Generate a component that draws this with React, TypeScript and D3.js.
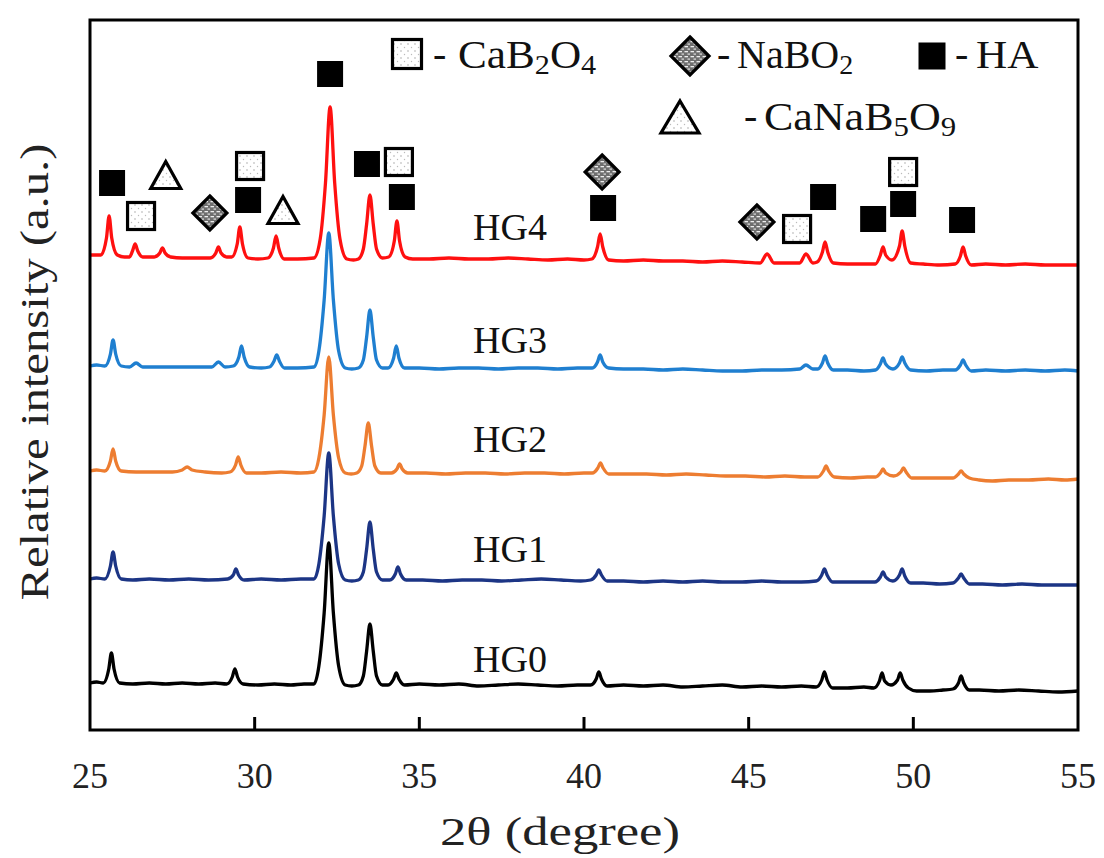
import React from "react";
import * as d3 from "d3";

type Pt = [number, number];

// 2θ ticks
const xTicks = [25, 30, 35, 40, 45, 50, 55];
const seriesNames = ["HG0", "HG1", "HG2", "HG3", "HG4"];
const seriesColors = ["#000000", "#1c3585", "#ed7d31", "#1f7fd0", "#ff1010"];
const seriesOffsets = [47, 151, 259, 364, 474];
const labelLift = [11, 17, 19, 13, 16];

const hg0: Pt[] = [[25,0],[25.2,1],[25.4,0],[25.57,14],[25.65,30],[25.73,14],[25.9,0],[26.3,-1],[26.8,0],[27.3,-1],[27.8,0],[28.3,-1],[28.8,0],[29.15,-1],[29.32,6],[29.4,14],[29.48,6],[29.65,-1],[30.1,-2],[30.6,-1],[31.1,-2],[31.5,-1],[31.8,-1],[31.95,17],[32.11,70],[32.25,140],[32.39,70],[32.55,17],[32.75,-2],[32.95,-3],[33.15,-2],[33.3,7],[33.4,32],[33.5,59],[33.6,32],[33.7,7],[33.88,-2],[34.05,-2],[34.22,4],[34.3,10],[34.38,4],[34.55,-2],[35,-1],[35.6,-2],[36.2,-1],[36.8,-3],[37.4,-2],[38,-1],[38.6,-2],[39.2,-3],[39.8,-2],[40.2,-2],[40.37,4],[40.45,11],[40.53,4],[40.7,-3],[41.2,-2],[41.8,-3],[42.4,-2],[43,-4],[43.6,-3],[44.2,-2],[44.8,-4],[45.4,-3],[46,-4],[46.6,-3],[47.05,-4],[47.22,3],[47.3,11],[47.38,3],[47.55,-5],[48,-5],[48.5,-4],[48.8,-5],[48.97,2],[49.05,10],[49.13,2],[49.32,-2],[49.52,3],[49.6,10],[49.68,3],[49.85,-5],[50.1,-8],[50.5,-8],[50.9,-7],[51.2,-6],[51.37,0],[51.45,7],[51.53,0],[51.7,-7],[52,-7],[52.6,-8],[53.2,-7],[53.8,-8],[54.4,-9],[55,-8]];
const hg1: Pt[] = [[25,0],[25.2,1],[25.45,0],[25.62,13],[25.7,27],[25.78,13],[25.95,0],[26.3,-1],[26.8,0],[27.4,-1],[28,0],[28.6,-1],[29.18,0],[29.35,4],[29.43,10],[29.51,4],[29.68,-1],[30.2,0],[30.8,-1],[31.4,0],[31.8,0],[31.95,15],[32.11,63],[32.25,126],[32.39,63],[32.55,15],[32.75,-1],[32.95,-2],[33.15,-1],[33.3,7],[33.4,30],[33.5,57],[33.6,30],[33.7,7],[33.88,-1],[34.1,-1],[34.27,5],[34.35,12],[34.43,5],[34.6,-1],[35.1,-1],[35.7,-2],[36.3,-1],[36.9,-1],[37.5,-2],[38.1,-1],[38.7,0],[39.3,-1],[39.9,-2],[40.2,-1],[40.37,4],[40.45,9],[40.53,4],[40.7,-2],[41.2,-2],[41.8,-3],[42.4,-2],[43,-3],[43.6,-2],[44.2,-3],[44.8,-3],[45.4,-2],[46,-3],[46.6,-3],[47.05,-2],[47.22,4],[47.3,10],[47.38,4],[47.55,-3],[48,-3],[48.5,-3],[48.83,-3],[49.0,2],[49.08,7],[49.16,2],[49.38,-2],[49.58,4],[49.66,10],[49.74,3],[49.92,-4],[50.3,-4],[50.8,-5],[51.2,-4],[51.37,1],[51.45,5],[51.53,1],[51.7,-5],[52.1,-5],[52.7,-6],[53.3,-5],[53.9,-6],[54.5,-6],[55,-6]];
const hg2: Pt[] = [[25,0],[25.2,1],[25.45,0],[25.62,10],[25.7,22],[25.78,10],[25.95,0],[26.4,-1],[27.0,-1],[27.5,-1],[27.8,1],[27.95,4],[28.1,1],[28.5,-1],[29.0,-2],[29.25,-1],[29.42,6],[29.5,14],[29.58,6],[29.75,-2],[30.2,-2],[30.8,-1],[31.4,-2],[31.8,-1],[31.95,13],[32.11,56],[32.25,114],[32.39,56],[32.55,13],[32.75,-2],[32.93,-3],[33.1,-2],[33.25,5],[33.35,25],[33.45,48],[33.55,25],[33.65,5],[33.83,-2],[34.15,-2],[34.32,2],[34.4,7],[34.48,2],[34.65,-2],[35.2,-2],[35.8,-3],[36.4,-2],[37,-2],[37.6,-3],[38.2,-2],[38.8,-2],[39.4,-3],[40,-2],[40.25,-2],[40.42,3],[40.5,8],[40.58,3],[40.75,-3],[41.3,-3],[41.9,-3],[42.5,-4],[43.1,-3],[43.7,-4],[44.3,-5],[44.9,-5],[45.5,-6],[46.1,-5],[46.7,-6],[47.1,-6],[47.27,0],[47.35,5],[47.43,0],[47.6,-6],[48.1,-7],[48.6,-6],[48.85,-6],[49.0,-2],[49.08,2],[49.16,-2],[49.4,-5],[49.62,-1],[49.7,3],[49.78,-1],[49.95,-7],[50.4,-7],[50.9,-7],[51.2,-7],[51.37,-3],[51.45,0],[51.53,-3],[51.7,-7],[52.0,-9],[52.4,-10],[52.9,-9],[53.5,-9],[54.1,-8],[54.6,-9],[55,-8]];
const hg3: Pt[] = [[25,0],[25.2,1],[25.45,0],[25.62,12],[25.7,26],[25.78,12],[25.95,0],[26.2,-1],[26.4,3],[26.6,-1],[27.1,-1],[27.7,-1],[28.3,-1],[28.7,-1],[28.9,4],[29.1,-1],[29.35,0],[29.52,9],[29.6,20],[29.68,9],[29.85,-1],[30.2,-2],[30.45,-1],[30.59,5],[30.67,11],[30.75,5],[30.9,-2],[31.3,-2],[31.8,-1],[31.95,15],[32.11,66],[32.25,133],[32.39,66],[32.55,15],[32.75,-2],[32.95,-3],[33.15,-2],[33.3,6],[33.4,29],[33.5,56],[33.6,29],[33.7,6],[33.88,-2],[34.05,-2],[34.22,8],[34.3,20],[34.38,8],[34.55,-2],[35,-2],[35.6,-3],[36.2,-2],[36.8,-2],[37.4,-3],[38,-2],[38.6,-2],[39.2,-3],[39.8,-2],[40.25,-2],[40.41,4],[40.49,11],[40.57,4],[40.75,-2],[41.2,-3],[41.8,-3],[42.4,-4],[43,-3],[43.6,-4],[44.2,-5],[44.8,-5],[45.4,-4],[46,-4],[46.55,-3],[46.74,1],[46.95,-3],[47.1,-3],[47.24,3],[47.32,10],[47.4,3],[47.57,-4],[48,-4],[48.5,-5],[48.85,-4],[49.0,2],[49.08,8],[49.16,2],[49.38,-3],[49.58,3],[49.66,9],[49.74,3],[49.92,-4],[50.4,-5],[50.9,-4],[51.27,-4],[51.43,1],[51.51,6],[51.59,1],[51.76,-5],[52.2,-4],[52.8,-5],[53.4,-4],[54,-5],[54.6,-4],[55,-5]];
const hg4: Pt[] = [[25,1],[25.15,1],[25.33,1],[25.5,18],[25.58,40],[25.66,18],[25.83,1],[26.05,-1],[26.2,-1],[26.29,5],[26.37,12],[26.45,5],[26.6,-1],[26.95,-1],[27.12,3],[27.2,8],[27.28,3],[27.45,-1],[27.8,-2],[28.3,-2],[28.65,-2],[28.82,3],[28.9,9],[28.98,3],[29.15,-1],[29.3,-1],[29.47,12],[29.55,29],[29.63,12],[29.8,-2],[30.1,-3],[30.4,-2],[30.57,8],[30.65,20],[30.73,8],[30.9,-3],[31.3,-3],[31.8,-2],[31.99,17],[32.15,73],[32.29,149],[32.43,73],[32.59,17],[32.8,-3],[33.0,-4],[33.15,-3],[33.3,7],[33.4,32],[33.5,61],[33.6,32],[33.7,7],[33.88,-2],[34.07,-1],[34.24,15],[34.32,35],[34.4,15],[34.57,-1],[34.8,-3],[35.3,-3],[35.9,-2],[36.5,-3],[37.1,-3],[37.7,-2],[38.3,-3],[38.9,-4],[39.5,-3],[40.0,-4],[40.24,-3],[40.41,9],[40.49,22],[40.57,9],[40.75,-4],[41.2,-5],[41.8,-4],[42.4,-5],[43,-5],[43.6,-6],[44.2,-5],[44.8,-6],[45.35,-7],[45.56,2],[45.77,-7],[46.2,-7],[46.55,-7],[46.74,2],[46.95,-7],[47.08,-6],[47.24,4],[47.32,14],[47.4,4],[47.57,-7],[48,-8],[48.5,-8],[48.85,-8],[49.0,1],[49.08,9],[49.16,1],[49.35,-4],[49.58,10],[49.66,25],[49.74,10],[49.92,-7],[50.3,-8],[50.8,-9],[51.27,-8],[51.43,0],[51.51,9],[51.59,0],[51.76,-9],[52.2,-8],[52.8,-9],[53.4,-8],[54,-9],[54.6,-9],[55,-9]];
const seriesData = [hg0, hg1, hg2, hg3, hg4];

// phase markers: [2θ, level]
const haMarks: Pt[] = [[25.67,547],[29.8,530],[32.29,656],[33.41,566],[34.47,533],[40.58,522],[47.26,533],[48.78,511],[49.69,526],[51.48,510]];
const cab2o4Marks: Pt[] = [[26.55,514],[29.86,564],[34.38,568],[46.47,501],[49.69,558]];
const canab5o9Marks: Pt[] = [[27.3,555],[30.86,520]];
const nabo2Marks: Pt[] = [[28.64,517],[40.55,558],[45.25,508]];

const W = 1104, H = 858;
const L = 90, R = 1078, T = 20, B = 730;
const FONT = "'Liberation Serif', 'Times New Roman', serif";

const Square = ({ cx, cy, s = 26 }: { cx: number; cy: number; s?: number }) => (
  <rect x={cx - s / 2} y={cy - s / 2} width={s} height={s} fill="#000" />
);
const DotSquare = ({ cx, cy, s = 27 }: { cx: number; cy: number; s?: number }) => (
  <rect x={cx - s / 2} y={cy - s / 2} width={s} height={s} fill="url(#dots)" stroke="#000" strokeWidth={3.2} />
);
const Tri = ({ cx, cy, w = 30, h = 27 }: { cx: number; cy: number; w?: number; h?: number }) => (
  <path d={`M${cx},${cy - h / 2}L${cx + w / 2},${cy + h / 2}L${cx - w / 2},${cy + h / 2}Z`} fill="url(#dots)" stroke="#000" strokeWidth={3.2} strokeLinejoin="miter" />
);
const Diamond = ({ cx, cy, r = 17 }: { cx: number; cy: number; r?: number }) => (
  <path d={`M${cx},${cy - r}L${cx + r},${cy}L${cx},${cy + r}L${cx - r},${cy}Z`} fill="url(#brick)" stroke="#000" strokeWidth={3.2} />
);

const Chem = ({ x, y, parts, sx = 1 }: { x: number; y: number; parts: [string, boolean][]; sx?: number }) => (
  <g transform={`translate(${x},${y}) scale(${sx},1)`}>
    <text x={0} y={0} fontSize={40} fill="#111">
      {parts.map(([s, sub], i) =>
        sub ? (
          <tspan key={i} fontSize={28} baselineShift="-22%">{s}</tspan>
        ) : (
          <tspan key={i}>{s}</tspan>
        )
      )}
    </text>
  </g>
);

export default function App() {
  const x = d3.scaleLinear().domain([25, 55]).range([L, R]);
  const y = d3.scaleLinear().domain([0, 710]).range([B, T]);

  const lines = seriesData.map((data, i) =>
    d3
      .line<Pt>()
      .x((d) => x(d[0]))
      .y((d) => y(d[1] + seriesOffsets[i]))
      .curve(d3.curveMonotoneX)(data) as string
  );

  return (
    <svg width={W} height={H} style={{ position: "absolute", left: 0, top: 0, background: "#fff" }} fontFamily={FONT}>
      <defs>
        <pattern id="dots" width="7" height="7" patternUnits="userSpaceOnUse">
          <rect width="7" height="7" fill="#fff" />
          <circle cx="2" cy="2" r="0.7" fill="#999" />
          <circle cx="5.5" cy="5.5" r="0.7" fill="#bbb" />
        </pattern>
        <pattern id="brick" width="6" height="5" patternUnits="userSpaceOnUse">
          <rect width="6" height="5" fill="#6e6e6e" />
          <rect x="0.5" y="1" width="3.5" height="1.3" fill="#eee" />
          <rect x="3.5" y="3.5" width="2.5" height="1.2" fill="#ddd" />
        </pattern>
      </defs>

      {/* series */}
      {lines.map((p, i) => (
        <path key={seriesNames[i]} d={p} fill="none" stroke={seriesColors[i]} strokeWidth={3.3} strokeLinejoin="round" />
      ))}

      {/* series labels */}
      {seriesNames.map((n, i) => (
        <text key={n} x={x(36.63)} y={y(seriesOffsets[i] + labelLift[i])} fontSize={38} fill="#111">
          {n}
        </text>
      ))}

      {/* markers */}
      {haMarks.map((m, i) => <Square key={"ha" + i} cx={x(m[0])} cy={y(m[1])} />)}
      {cab2o4Marks.map((m, i) => <DotSquare key={"cb" + i} cx={x(m[0])} cy={y(m[1])} />)}
      {canab5o9Marks.map((m, i) => <Tri key={"tr" + i} cx={x(m[0])} cy={y(m[1])} />)}
      {nabo2Marks.map((m, i) => <Diamond key={"dm" + i} cx={x(m[0])} cy={y(m[1])} />)}

      {/* legend */}
      <DotSquare cx={407} cy={54} s={29} />
      <text x={433} y={67} fontSize={40} fill="#111">-</text>
      <Chem x={458} y={68} sx={1.08} parts={[["CaB", false], ["2", true], ["O", false], ["4", true]]} />
      <Diamond cx={690} cy={56} r={19} />
      <text x={717} y={67} fontSize={40} fill="#111">-</text>
      <Chem x={737} y={68} parts={[["NaBO", false], ["2", true]]} />
      <Square cx={932} cy={56} s={27} />
      <text x={955} y={67} fontSize={40} fill="#111">-</text>
      <Chem x={976} y={68} sx={1.08} parts={[["HA", false]]} />
      <Tri cx={680} cy={117} w={38} h={32} />
      <text x={744} y={129} fontSize={40} fill="#111">-</text>
      <Chem x={764} y={130} sx={1.1} parts={[["CaNaB", false], ["5", true], ["O", false], ["9", true]]} />

      {/* frame */}
      <rect x={L} y={T} width={R - L} height={B - T} fill="none" stroke="#000" strokeWidth={3} />
      {/* ticks */}
      {xTicks.slice(1, -1).map((t) => (
        <line key={t} x1={x(t)} x2={x(t)} y1={B} y2={B - 13} stroke="#000" strokeWidth={3} />
      ))}
      {xTicks.map((t) => (
        <text key={t} x={x(t)} y={788} fontSize={36} textAnchor="middle" fill="#222">
          {t}
        </text>
      ))}
      <text x={560} y={845} fontSize={40} textAnchor="middle" fill="#222" textLength={240} lengthAdjust="spacingAndGlyphs">
        2θ (degree)
      </text>
      <text transform={`translate(48,${372}) rotate(-90)`} fontSize={40} textAnchor="middle" fill="#222" textLength={457} lengthAdjust="spacingAndGlyphs">
        Relative intensity (a.u.)
      </text>
    </svg>
  );
}
